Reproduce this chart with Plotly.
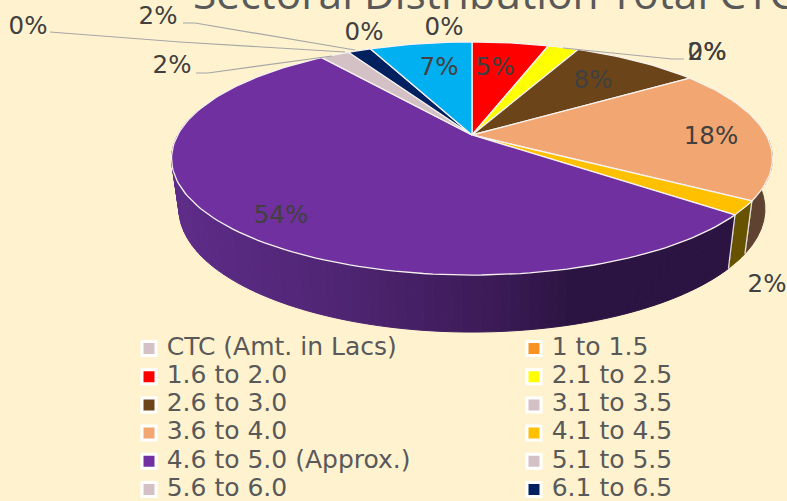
import math
import plotly.graph_objects as go

# ---- data ----
categories = ["CTC (Amt. in Lacs)", "1 to 1.5", "1.6 to 2.0", "2.1 to 2.5", "2.6 to 3.0", "3.1 to 3.5",
              "3.6 to 4.0", "4.1 to 4.5", "4.6 to 5.0 (Approx.)", "5.1 to 5.5", "5.6 to 6.0", "6.1 to 6.5",
              "6.6 to 7.0"]
values = [0, 0, 5.0, 2.0, 8.4, 0, 18.4, 1.9, 54.1, 0, 1.9, 1.5, 6.7]
colors = ["#D3C1C6", "#F7931E", "#FF0000", "#FFFF00", "#6B4519", "#D3C1C6",
          "#F2A772", "#FFC000", "#7030A0", "#D3C1C6", "#D3C1C6", "#002060", "#00B0F0"]
wall_colors = {6: "#5F4230", 7: "#665200", 8: None}
purple_ramp_x = [180, 340, 500, 570]
purple_ramp_c = ["#5E2C88", "#4F2573", "#3A1A55", "#2C1442"]
in_legend = 12
title = "Sectoral Distribution Total CTC"

# ---- label layout (pixels in the 787x501 window) ----
label_pos = [(444, 29), (364, 34), (495, 69), (707, 54), (593, 82), (707, 54), (711, 138), (767, 286),
             (281, 217), (28, 28), (172, 67), (158, 18), (439, 69)]
leaders = [[(50, 32), (180, 42), (345, 52)],
           [(183, 23), (195, 23), (355, 50)],
           [(196, 73), (208, 73), (332, 56)],
           [(684, 59), (672, 59), (563, 48)]]
legend_cols = [149, 534]
legend_top, legend_step = 348.5, 28.2

BG = "#FFF2CF"
FONT = "DejaVu Sans"
CX, CY = 472, 135
R, H, K = 294.3, 111.8, 0.2017


def project(theta_deg, wall=False):
    t = math.radians(theta_deg)
    u, v = math.sin(t), math.cos(t)
    x = R * u / (1 + K * v)
    y = -H * v / (1 + K * v)
    if wall:
        return CX + 0.975 * x, 184.3 + 1.055 * y
    return CX + x, CY + y


def mix(c1, c2, f):
    a = [int(c1[i:i + 2], 16) for i in (1, 3, 5)]
    b = [int(c2[i:i + 2], 16) for i in (1, 3, 5)]
    return "rgb(%d,%d,%d)" % tuple(round(a[i] + (b[i] - a[i]) * f) for i in range(3))


def ramp(x):
    if x <= purple_ramp_x[0]:
        return mix(purple_ramp_c[0], purple_ramp_c[0], 0)
    for j in range(len(purple_ramp_x) - 1):
        if x <= purple_ramp_x[j + 1]:
            f = (x - purple_ramp_x[j]) / (purple_ramp_x[j + 1] - purple_ramp_x[j])
            return mix(purple_ramp_c[j], purple_ramp_c[j + 1], f)
    return mix(purple_ramp_c[-1], purple_ramp_c[-1], 0)


fig = go.Figure()
total = sum(values)
angles = [0]
for val in values:
    angles.append(angles[-1] + val / total * 360)

# side walls
VIS0, VIS1 = 92, 283
for i, base in wall_colors.items():
    a0, a1 = max(angles[i], VIS0), min(angles[i + 1], VIS1)
    steps = max(1, int((a1 - a0) / 1.5)) if base is None else 1
    for s in range(steps):
        b0 = a0 + (a1 - a0) * s / steps
        b1 = a0 + (a1 - a0) * (s + 1) / steps
        th = [b0 + (b1 - b0) * j / 8 for j in range(9)]
        top = [project(t) for t in th]
        bot = [project(t, True) for t in reversed(th)]
        pts = top + bot
        pts.append(pts[0])
        col = base or ramp(sum(p[0] for p in pts) / len(pts))
        fig.add_trace(go.Scatter(x=[p[0] for p in pts], y=[p[1] for p in pts], mode="lines", fill="toself",
                                 fillcolor=col, line=dict(color=col, width=1), showlegend=False,
                                 hoverinfo="skip"))
    for a in (a0, a1):
        if VIS0 < a < VIS1:
            p, q = project(a), project(a, True)
            fig.add_trace(go.Scatter(x=[p[0], q[0]], y=[p[1], q[1]], mode="lines",
                                     line=dict(color="#E8E4E0", width=1.2), showlegend=False, hoverinfo="skip"))

# top slices
for i, val in enumerate(values):
    if val <= 0:
        continue
    a0, a1 = angles[i], angles[i + 1]
    n = max(4, int((a1 - a0) / 1.5))
    pts = [(CX, CY)] + [project(a0 + (a1 - a0) * j / n) for j in range(n + 1)] + [(CX, CY)]
    fig.add_trace(go.Scatter(x=[p[0] for p in pts], y=[p[1] for p in pts], mode="lines", fill="toself",
                             fillcolor=colors[i], line=dict(color="#F6F2EE", width=1.3), showlegend=False,
                             hoverinfo="skip", name=categories[i]))

# leader lines
for ln in leaders:
    fig.add_trace(go.Scatter(x=[p[0] for p in ln], y=[p[1] for p in ln], mode="lines",
                             line=dict(color="#A6A6A6", width=1.2), showlegend=False, hoverinfo="skip"))

# percentage labels
fig.add_trace(go.Scatter(x=[p[0] for p in label_pos], y=[p[1] for p in label_pos], mode="text",
                         text=["%d%%" % round(v / total * 100 + 1e-9) for v in values],
                         textposition="middle center",
                         textfont=dict(family=FONT, size=24.5, color="#404040"),
                         showlegend=False, hoverinfo="skip"))

# legend entries (two columns, row by row)
for i in range(in_legend):
    lx = legend_cols[i % 2]
    ly = legend_top + legend_step * (i // 2)
    fig.add_trace(go.Scatter(x=[lx], y=[ly], mode="markers+text", text=[" " + categories[i]],
                             textposition="middle right",
                             textfont=dict(family=FONT, size=25, color="#595959"),
                             marker=dict(symbol="square", size=14, color=colors[i],
                                         line=dict(color="#FFFFFF", width=3)),
                             showlegend=False, hoverinfo="skip", name=categories[i]))

fig.update_layout(
    width=787, height=501, margin=dict(l=0, r=0, t=0, b=0), showlegend=False,
    paper_bgcolor=BG, plot_bgcolor=BG,
    xaxis=dict(range=[0, 787], visible=False, fixedrange=True),
    yaxis=dict(range=[501, 0], visible=False, fixedrange=True),
    annotations=[dict(text=title, xref="paper", yref="paper", x=192 / 787, y=1 - 22.5 / 501, xanchor="left",
                      yanchor="bottom", showarrow=False, borderpad=0, align="left",
                      font=dict(family="Open Sans", size=42.5, color="#595959"))],
)
fig.write_html("out.html", config={"displayModeBar": False},
               post_script="document.body.style.margin='0';document.documentElement.style.overflow='hidden';")
